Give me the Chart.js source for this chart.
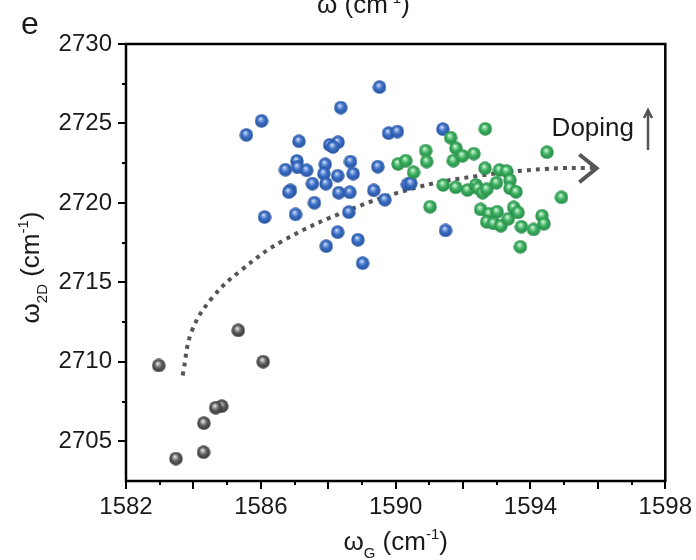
<!DOCTYPE html>
<html>
<head>
<meta charset="utf-8">
<script src="https://cdn.jsdelivr.net/npm/chart.js@4"></script>
<style>
  html, body { margin: 0; padding: 0; background: #fff; }
  #wrap { width: 696px; height: 560px; }
</style>
</head>
<body>
<div id="wrap"><canvas id="scatterChart" width="696" height="560"></canvas></div>
<script>
// omega_G / omega_2D values
const blueX = [1589.52, 1588.37, 1586.02, 1585.57, 1587.13, 1588.04, 1588.29, 1588.14, 1589.79, 1590.05,
  1587.07, 1587.09, 1586.73, 1587.36, 1587.91, 1587.87, 1588.28, 1588.66, 1588.74, 1589.47,
  1587.53, 1587.93, 1586.88, 1586.83, 1588.31, 1588.64, 1589.35, 1587.59, 1589.68, 1590.35,
  1590.45, 1586.11, 1587.03, 1588.61, 1588.28, 1588.88, 1587.94, 1589.02, 1591.40, 1591.48];
const blueY = [2727.29, 2726.0, 2725.16, 2724.28, 2723.88, 2723.65, 2723.82, 2723.52, 2724.39, 2724.49,
  2722.64, 2722.24, 2722.09, 2722.05, 2722.43, 2721.84, 2721.71, 2722.6, 2721.84, 2722.28,
  2721.21, 2721.21, 2720.79, 2720.68, 2720.64, 2720.67, 2720.79, 2720.01, 2720.2, 2721.17,
  2721.23, 2719.11, 2719.28, 2719.42, 2718.16, 2717.68, 2717.28, 2716.21, 2724.64, 2718.27];

const greenX = [1590.07, 1590.30, 1590.53, 1592.66, 1591.63, 1590.89, 1591.79, 1590.92, 1591.71, 1591.98,
  1592.32, 1594.49, 1592.65, 1593.08, 1593.29, 1593.39, 1592.99, 1591.41, 1591.78, 1592.13,
  1592.38, 1592.44, 1592.58, 1592.70, 1593.39, 1593.57, 1594.92, 1591.02, 1592.52, 1592.77,
  1593.01, 1593.50, 1593.63, 1592.70, 1592.90, 1593.12, 1593.34, 1593.73, 1594.34, 1594.40,
  1594.09, 1593.70];
const greenY = [2722.45, 2722.66, 2721.93, 2724.66, 2724.11, 2723.29, 2723.44, 2722.6, 2722.66, 2722.96,
  2723.1, 2723.19, 2722.18, 2722.07, 2722.01, 2721.44, 2721.27, 2721.13, 2720.98, 2720.81,
  2721.13, 2720.92, 2720.64, 2720.86, 2720.92, 2720.7, 2720.35, 2719.76, 2719.59, 2719.32,
  2719.44, 2719.72, 2719.4, 2718.81, 2718.71, 2718.56, 2719.0, 2718.5, 2719.19, 2718.69,
  2718.33, 2717.24];

const grayX = [1585.33, 1582.97, 1586.07, 1584.84, 1584.66, 1584.31, 1584.30, 1583.48];
const grayY = [2711.98, 2709.77, 2710.01, 2707.21, 2707.11, 2706.14, 2704.31, 2703.91];

// dotted guide curve and its arrow head
const curveX = [1583.68, 1583.95, 1584.57, 1585.42, 1586.64, 1588.61, 1590.68, 1592.45, 1594.43, 1595.96];
const curveY = [2709.14, 2711.92, 2714.06, 2715.77, 2717.6, 2719.55, 2721.0, 2721.7, 2722.14, 2722.21];
const headX = [1595.45, 1595.96, 1595.45];
const headY = [2723.05, 2722.18, 2721.3];

// axes
const xTickValues = [1582, 1583, 1584, 1585, 1586, 1587, 1588, 1589, 1590, 1591, 1592, 1593, 1594, 1595, 1596, 1597, 1598];
const xTickLabels = [1582, 1586, 1590, 1594, 1598];
const yTickValues = [2705, 2707.5, 2710, 2712.5, 2715, 2717.5, 2720, 2722.5, 2725, 2727.5, 2730];
const yTickLabels = [2705, 2710, 2715, 2720, 2725, 2730];

const FONT = "'Liberation Sans', Arial, Helvetica, sans-serif";

function zip(xs, ys) {
  return xs.map((x, i) => ({ x: x, y: ys[i] }));
}

function makeBall(light, base, dark, d) {
  const c = document.createElement("canvas");
  c.width = d;
  c.height = d;
  const ctx = c.getContext("2d");
  const g = ctx.createRadialGradient(d * 0.42, d * 0.34, 0, d * 0.5, d * 0.5, d * 0.52);
  g.addColorStop(0, "#ffffff");
  g.addColorStop(0.16, light);
  g.addColorStop(0.5, base);
  g.addColorStop(1, dark);
  ctx.fillStyle = g;
  ctx.beginPath();
  ctx.arc(d / 2, d / 2, d / 2 - 0.3, 0, Math.PI * 2);
  ctx.fill();
  return c;
}

const blueBall = makeBall("#9ab8ec", "#3a6cc2", "#23509a", 14);
const greenBall = makeBall("#a3e4b4", "#3bae5f", "#238644", 14);
const grayBall = makeBall("#c4c4c4", "#5e5e5e", "#303030", 14);

// frame, ticks and text that Chart.js cannot do on its own (sub/superscripts)
const decorPlugin = {
  id: "decor",
  afterDraw(chart) {
    const ctx = chart.ctx;
    const a = chart.chartArea;
    const xs = chart.scales.x;
    const ys = chart.scales.y;
    ctx.save();

    ctx.strokeStyle = "#000";
    ctx.lineWidth = 2;
    xTickValues.forEach((v) => {
      const px = Math.round(xs.getPixelForValue(v));
      const len = (v - 1582) % 2 === 0 ? 8 : 4;
      ctx.beginPath();
      ctx.moveTo(px, a.bottom);
      ctx.lineTo(px, a.bottom + len);
      ctx.stroke();
    });
    yTickValues.forEach((v) => {
      const py = Math.round(ys.getPixelForValue(v));
      const len = v % 5 === 0 ? 8 : 4;
      ctx.beginPath();
      ctx.moveTo(a.left, py);
      ctx.lineTo(a.left - len, py);
      ctx.stroke();
    });

    ctx.lineWidth = 2.5;
    ctx.strokeRect(a.left, a.top, a.right - a.left, a.bottom - a.top);

    ctx.fillStyle = "#1a1a1a";
    ctx.textBaseline = "alphabetic";

    // panel letter and cut-off title of the panel above
    ctx.textAlign = "left";
    ctx.font = "32px " + FONT;
    ctx.fillText("e", 21, 34);
    ctx.font = "26px " + FONT;
    ctx.fillText("\u03c9 (cm", 317, 13);
    let w = ctx.measureText("\u03c9 (cm").width;
    ctx.font = "15px " + FONT;
    ctx.fillText("-1", 317 + w, 3);
    let w2 = ctx.measureText("-1").width;
    ctx.font = "26px " + FONT;
    ctx.fillText(")", 317 + w + w2, 13);

    // x axis title: omega_G (cm^-1)
    drawRich(ctx, (a.left + a.right) / 2, 550, "G");

    // y axis title, rotated
    ctx.save();
    ctx.translate(39, (a.top + a.bottom) / 2 + 5);
    ctx.rotate(-Math.PI / 2);
    drawRich(ctx, 0, 0, "2D");
    ctx.restore();

    // Doping label with arrow
    ctx.textAlign = "right";
    ctx.font = "26px " + FONT;
    ctx.fillStyle = "#1a1a1a";
    ctx.fillText("Doping", 634, 136);
    ctx.strokeStyle = "#555";
    ctx.lineWidth = 2.5;
    ctx.beginPath();
    ctx.moveTo(648, 150);
    ctx.lineTo(648, 111);
    ctx.moveTo(644, 118);
    ctx.lineTo(648, 110);
    ctx.lineTo(652, 118);
    ctx.stroke();

    ctx.restore();
  },
};

function drawRich(ctx, cx, baseY, sub) {
  const parts = [
    { t: "\u03c9", f: 26, dy: 0 },
    { t: sub, f: 15, dy: 8 },
    { t: " (cm", f: 26, dy: 0 },
    { t: "-1", f: 15, dy: -11 },
    { t: ")", f: 26, dy: 0 },
  ];
  let total = 0;
  parts.forEach((p) => {
    ctx.font = p.f + "px " + FONT;
    p.w = ctx.measureText(p.t).width;
    total += p.w;
  });
  let x = cx - total / 2;
  ctx.textAlign = "left";
  ctx.fillStyle = "#1a1a1a";
  parts.forEach((p) => {
    ctx.font = p.f + "px " + FONT;
    ctx.fillText(p.t, x, baseY + p.dy);
    x += p.w;
  });
}

document.addEventListener("DOMContentLoaded", function () {
  const ctx = document.getElementById("scatterChart").getContext("2d");
  new Chart(ctx, {
    type: "scatter",
    data: {
      datasets: [
        {
          label: "curve",
          data: zip(curveX, curveY),
          showLine: true,
          borderColor: "#555555",
          borderWidth: 4,
          borderDash: [4, 5],
          borderCapStyle: "butt",
          tension: 0.4,
          pointRadius: 0,
          order: 10,
        },
        {
          label: "head",
          data: zip(headX, headY),
          showLine: true,
          borderColor: "#555555",
          borderWidth: 4,
          borderJoinStyle: "miter",
          tension: 0,
          pointRadius: 0,
          order: 9,
        },
        {
          label: "gray",
          data: zip(grayX, grayY),
          pointStyle: grayBall,
          order: 3,
        },
        {
          label: "blue",
          data: zip(blueX, blueY),
          pointStyle: blueBall,
          order: 2,
        },
        {
          label: "green",
          data: zip(greenX, greenY),
          pointStyle: greenBall,
          order: 1,
        },
      ],
    },
    options: {
      responsive: false,
      animation: false,
      layout: { padding: { top: 44, right: 28, left: 0, bottom: 0 } },
      plugins: {
        legend: { display: false },
        tooltip: { enabled: false },
      },
      scales: {
        x: {
          type: "linear",
          min: 1582,
          max: 1598,
          border: { display: false },
          grid: { drawOnChartArea: false, color: "rgba(0,0,0,0)", tickLength: 8 },
          afterBuildTicks: (scale) => {
            scale.ticks = xTickValues.map((v) => ({ value: v }));
          },
          afterFit: (scale) => {
            scale.height = 79;
          },
          ticks: {
            autoSkip: false,
            maxRotation: 0,
            padding: 4,
            color: "#1a1a1a",
            font: { family: FONT, size: 24 },
            callback: (v) => (xTickLabels.includes(v) ? String(v) : ""),
          },
        },
        y: {
          type: "linear",
          min: 2702.5,
          max: 2730,
          border: { display: false },
          grid: { drawOnChartArea: false, color: "rgba(0,0,0,0)", tickLength: 8 },
          afterBuildTicks: (scale) => {
            scale.ticks = yTickValues.map((v) => ({ value: v }));
          },
          afterFit: (scale) => {
            scale.width = 126;
          },
          ticks: {
            autoSkip: false,
            padding: 6,
            color: "#1a1a1a",
            font: { family: FONT, size: 24 },
            callback: (v) => (yTickLabels.includes(v) ? String(v) : ""),
          },
        },
      },
    },
    plugins: [decorPlugin],
  });
});
</script>
</body>
</html>
